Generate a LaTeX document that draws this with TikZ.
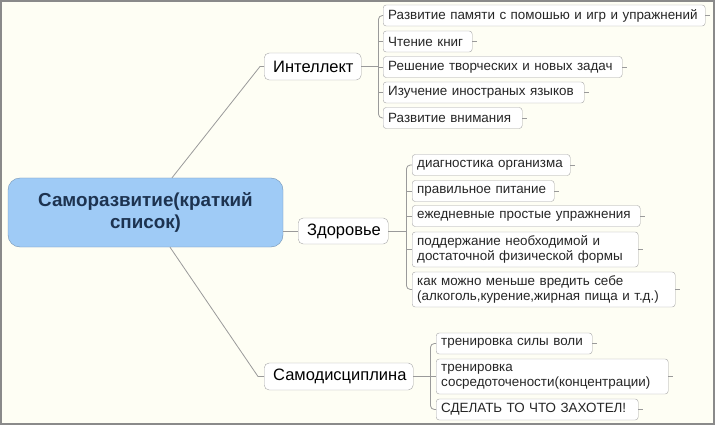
\documentclass[tikz,border=0pt]{standalone}
\usepackage{fontspec}
\setmainfont{Liberation Sans}
\usetikzlibrary{calc}
\definecolor{bgc}{HTML}{FEFEF4}
\definecolor{framec}{HTML}{8A8A8A}
\definecolor{bordc}{HTML}{A6A6A6}
\definecolor{connc}{HTML}{9A9A9A}
\definecolor{rootfill}{HTML}{9FCBF6}
\definecolor{rootbord}{HTML}{7393B3}
\definecolor{roottext}{HTML}{1D3350}
\begin{document}
\begin{tikzpicture}[x=1pt,y=-1pt,
  leaf/.style={draw=bordc, fill=white, rounded corners=3pt, inner xsep=5pt, inner ysep=0pt,
    anchor=west, align=left, text=black!85, minimum height=21pt,
    font=\fontsize{13.4}{15}\selectfont},
  leaftwo/.style={leaf, minimum height=35pt},
  mainnode/.style={draw=bordc, fill=white, rounded corners=5pt, inner xsep=9pt, inner ysep=0pt,
    anchor=west, align=center, minimum height=27pt, text=black,
    font=\fontsize{16.5}{19}\selectfont},
  rootnode/.style={draw=rootbord, fill=rootfill, rounded corners=12pt, inner xsep=10pt,
    inner ysep=0pt, align=center, minimum height=69pt, text=roottext,
    font=\bfseries\fontsize{18.8}{22.5}\selectfont},
  link/.style={draw=connc, line width=0.8pt},
  bracket/.style={link, rounded corners=4pt},
  tick/.style={link}]
\path[use as bounding box] (0,0) rectangle (715,425);
\fill[bgc] (0,0) rectangle (715,425);
\draw[framec, line width=2pt] (1,1) rectangle (714,424);

% root
\node[rootnode, text width=255pt] (root) at (145.5,212.5) {Саморазвитие(краткий\\список)};

% main branches
\node[mainnode, text width=79pt] (intel) at (264,66.5) {Интеллект};
\node[mainnode, text width=72pt, minimum height=26pt] (health) at (298,231) {Здоровье};
\node[mainnode, text width=131pt] (disc) at (264,376.5) {Самодисциплина};

% intellect leaves
\node[leaf, text width=312pt] (i1) at (383,15.5) {Развитие памяти с помошью и игр и упражнений};
\node[leaf, text width=79pt]  (i2) at (383,41.5) {Чтение книг};
\node[leaf, text width=229pt] (i3) at (383,67) {Решение творческих и новых задач};
\node[leaf, text width=191pt] (i4) at (383,92.5) {Изучение иностраных языков};
\node[leaf, text width=129pt] (i5) at (383,118) {Развитие внимания};

% health leaves
\node[leaf, text width=148pt] (h1) at (412,165) {диагностика организма};
\node[leaf, text width=132pt] (h2) at (412,191) {правильное питание};
\node[leaf, text width=218pt] (h3) at (412,216) {ежедневные простые упражнения};
\node[leaftwo, text width=216pt] (h4) at (412,249.5) {поддержание необходимой и\\достаточной физической формы};
\node[leaftwo, text width=253pt] (h5) at (412,289.5) {как можно меньше вредить себе\\(алкоголь,курение,жирная пища и т.д.)};

% discipline leaves
\node[leaf, text width=146pt] (d1) at (436,343.5) {тренировка силы воли};
\node[leaftwo, text width=222pt] (d2) at (436,376.5) {тренировка\\сосредоточености(концентрации)};
\node[leaf, text width=192pt] (d3) at (436,409.5) {СДЕЛАТЬ ТО ЧТО ЗАХОТЕЛ!};

% root connectors
\coordinate (rI) at ([xshift=26.5pt]root.north);
\coordinate (rD) at ([xshift=24.5pt]root.south);
\draw[link] (rI) -- ([xshift=-4pt]intel.west) -- (intel.west);
\draw[link] (root.east |- health.west) -- (health.west);
\draw[link] (rD) -- ([xshift=-6pt]disc.west) -- (disc.west);

% brackets
\coordinate (bI) at ([xshift=17pt]intel.east);
\draw[link] (intel.east) -- (bI);
\draw[bracket] (i1.west) -| (bI) |- (i5.west);
\foreach \n in {i2,i3,i4} \draw[link] (bI |- \n.west) -- (\n.west);

\coordinate (bH) at ([xshift=18pt]health.east);
\draw[link] (health.east) -- (bH);
\draw[bracket] (h1.west) -| (bH) |- (h5.west);
\foreach \n in {h2,h3,h4} \draw[link] (bH |- \n.west) -- (\n.west);

\coordinate (bD) at ([xshift=17pt]disc.east);
\draw[link] (disc.east) -- (bD);
\draw[bracket] (d1.west) -| (bD) |- (d3.west);
\draw[link] (bD |- d2.west) -- (d2.west);

% collapse ticks
\foreach \n in {i1,i2,i3,i4,i5,h1,h2,h3,h4,h5,d1,d2,d3} \draw[tick] (\n.east) -- ++(5,0);
\end{tikzpicture}
\end{document}
